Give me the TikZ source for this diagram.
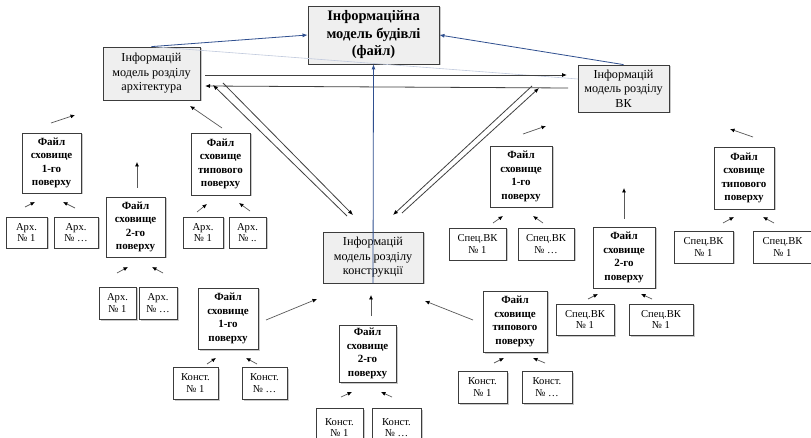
\documentclass[tikz,border=0pt]{standalone}
\usepackage{fontspec}
\setmainfont{Liberation Serif}
\usetikzlibrary{shadows,arrows.meta}
\definecolor{bord}{HTML}{3C3C3C}
\definecolor{boxgray}{HTML}{EFEFEF}
\definecolor{lnk}{HTML}{2F4F8F}
\tikzset{
 base/.style={draw=bord, line width=0.8pt, inner sep=0pt, align=center,
   drop shadow={shadow xshift=1.5pt, shadow yshift=-1.5pt, fill=black!60, opacity=0.35}},
 mainbox/.style={base, fill=boxgray, font=\fontsize{14.5}{17.5}\selectfont\bfseries},
 modbox/.style={base, fill=boxgray, font=\fontsize{12.2}{14.5}\selectfont},
 filebox/.style={base, fill=white, font=\fontsize{11}{13.5}\selectfont\bfseries},
 leafbox/.style={base, fill=white, font=\fontsize{10.6}{11.5}\selectfont},
 sarr/.style={draw=black!65, line width=0.7pt, -{Latex[length=4.5pt,width=4pt,black]}},
 darr/.style={draw=black!75, line width=0.8pt, -{Latex[length=5pt,width=4pt,black]}},
 barr/.style={draw=lnk, line width=0.8pt, -{Latex[length=5pt,width=4pt]}},
}
\newcommand\bx[7]{\node[#6, minimum width={#4pt-#2pt}, minimum height={#5pt-#3pt}] (#1) at ({(#2+#4)/2},{(#3+#5)/2}) {#7};}
\newcommand\sa[4]{\draw[sarr] (#1,#2) -- (#3,#4);}
\begin{document}
\begin{tikzpicture}[x=1pt,y=-1pt]
\useasboundingbox[fill=white] (0,0) rectangle (811,438);
% top-level boxes
\bx{main}{308}{6}{439}{64}{mainbox}{Інформаційна\\модель будівлі\\(файл)}
\bx{arch}{103}{47}{200}{100}{modbox}{Інформацій\\модель розділу\\архітектура}
\bx{vk}{578}{65}{669}{112}{modbox}{Інформацій\\модель розділу\\ВК}
\bx{kon}{323}{232}{423}{283}{modbox}{Інформацій\\модель розділу\\конструкції}
% architecture group
\bx{L1}{22}{133}{81}{193}{filebox}{Файл\\сховище\\1-го\\поверху}
\bx{L2}{106}{197}{165}{257}{filebox}{Файл\\сховище\\2-го\\поверху}
\bx{L3}{191}{133}{250}{195}{filebox}{Файл\\сховище\\типового\\поверху}
\bx{La}{6}{217}{47}{248}{leafbox}{Арх.\\№ 1}
\bx{Lb}{54}{217}{98}{248}{leafbox}{Арх.\\№ …}
\bx{Lc}{183}{217}{223}{248}{leafbox}{Арх.\\№ 1}
\bx{Ld}{229}{217}{266}{248}{leafbox}{Арх.\\№ ..}
\bx{Le}{99}{287}{136}{319}{leafbox}{Арх.\\№ 1}
\bx{Lf}{139}{287}{177}{319}{leafbox}{Арх.\\№ …}
% construction group
\bx{K1}{198}{288}{258}{349}{filebox}{Файл\\сховище\\1-го\\поверху}
\bx{K2}{339}{325}{396}{382}{filebox}{Файл\\сховище\\2-го\\поверху}
\bx{K3}{483}{291}{547}{352}{filebox}{Файл\\сховище\\типового\\поверху}
\bx{Ka}{173}{367}{218}{399}{leafbox}{Конст.\\№ 1}
\bx{Kb}{242}{367}{287}{399}{leafbox}{Конст.\\№ …}
\bx{Kc}{316}{408}{363}{447}{leafbox}{Конст.\\№ 1}
\bx{Kd}{372}{408}{421}{447}{leafbox}{Конст.\\№ …}
\bx{Ke}{458}{371}{507}{403}{leafbox}{Конст.\\№ 1}
\bx{Kf}{522}{371}{572}{403}{leafbox}{Конст.\\№ …}
% VK group
\bx{V1}{490}{146}{552}{207}{filebox}{Файл\\сховище\\1-го\\поверху}
\bx{V2}{593}{227}{655}{288}{filebox}{Файл\\сховище\\2-го\\поверху}
\bx{V3}{714}{147}{774}{209}{filebox}{Файл\\сховище\\типового\\поверху}
\bx{Va}{449}{228}{506}{260}{leafbox}{Спец.ВК\\№ 1}
\bx{Vb}{518}{228}{574}{260}{leafbox}{Спец.ВК\\№ …}
\bx{Vc}{556}{304}{614}{335}{leafbox}{Спец.ВК\\№ 1}
\bx{Vd}{629}{304}{693}{335}{leafbox}{Спец.ВК\\№ 1}
\bx{Ve}{674}{231}{733}{263}{leafbox}{Спец.ВК\\№ 1}
\bx{Vf}{753}{231}{812}{263}{leafbox}{Спец.ВК\\№ 1}
% blue links
\draw[lnk!30, line width=0.6pt] (arch.north) -- (578,79);
\draw[barr] (arch.north) -- (main.west);
\draw[barr] (vk.north) -- (main.east);
% double arrows between discipline models
\draw[darr] (205,75) -- (567,75);
\draw[darr] (568,88) -- (205,86);
\draw[darr] (347,216) -- (213,85);
\draw[darr] (223,83) -- (353,215);
\draw[darr] (532,86) -- (393,215);
\draw[darr] (402,213) -- (539,88);
\draw[barr] (kon.south) -- (main.south);
% small arrows - architecture
\sa{51}{123}{75}{115}
\sa{137}{188}{137}{162}
\sa{222}{128}{190}{106}
\sa{25}{207}{35}{202}
\sa{75}{208}{63}{202}
\sa{197}{212}{207}{204}
\sa{250}{211}{239}{203}
\sa{117}{273}{128}{267}
\sa{163}{273}{152}{267}
% small arrows - construction
\sa{266}{320}{317}{299}
\sa{371}{316}{371}{295}
\sa{473}{320}{425}{301}
\sa{207}{364}{216}{358}
\sa{257}{364}{246}{358}
\sa{341}{397}{352}{392}
\sa{392}{397}{381}{392}
\sa{494}{363}{504}{358}
\sa{545}{363}{533}{358}
% small arrows - VK
\sa{523}{134}{546}{126}
\sa{624}{219}{624}{188}
\sa{753}{137}{730}{129}
\sa{493}{223}{503}{216}
\sa{543}{223}{533}{216}
\sa{588}{299}{598}{294}
\sa{652}{299}{641}{294}
\sa{723}{223}{734}{217}
\sa{774}{223}{763}{217}
\end{tikzpicture}
\end{document}
